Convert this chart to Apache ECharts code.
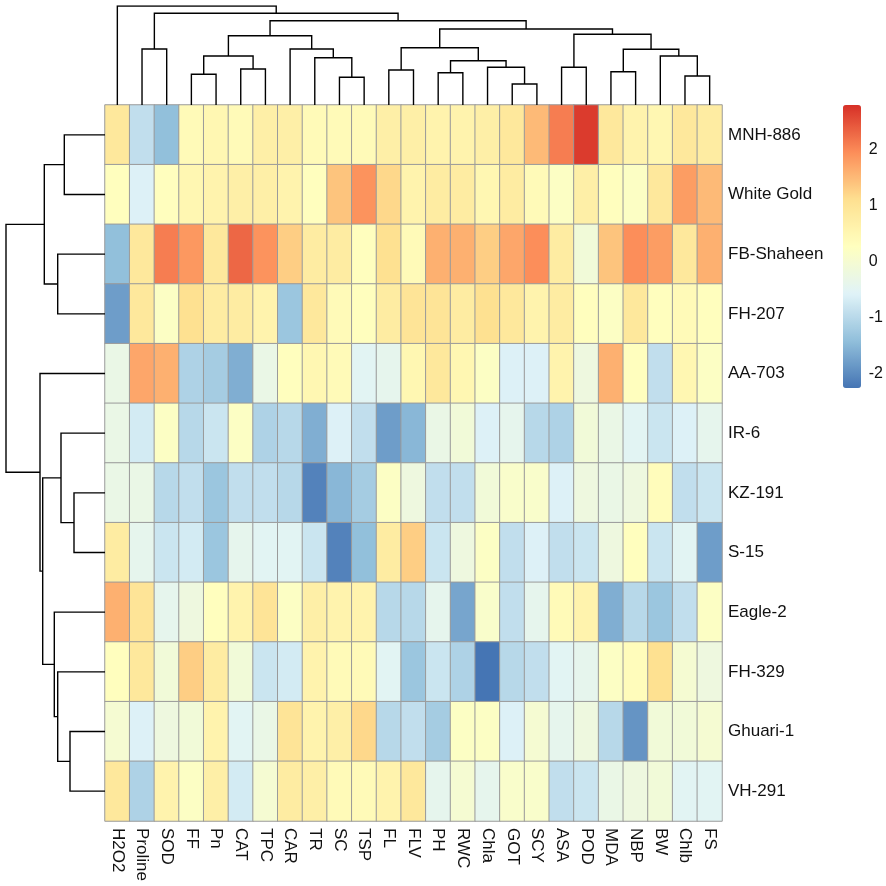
<!DOCTYPE html>
<html>
<head>
<meta charset="utf-8">
<script src="https://cdn.jsdelivr.net/npm/echarts@6/dist/echarts.min.js"></script>
<style>
html, body { margin: 0; padding: 0; background: #fff; }
#main { width: 886px; height: 886px; }
</style>
</head>
<body>
<div id="main"></div>
<script>
var rowNames = ['MNH-886', 'White Gold', 'FB-Shaheen', 'FH-207', 'AA-703', 'IR-6',
    'KZ-191', 'S-15', 'Eagle-2', 'FH-329', 'Ghuari-1', 'VH-291'];
var colNames = ['H2O2', 'Proline', 'SOD', 'FF', 'Pn', 'CAT', 'TPC', 'CAR', 'TR', 'SC',
    'TSP', 'FL', 'FLV', 'PH', 'RWC', 'Chla', 'GOT', 'SCY', 'ASA', 'POD', 'MDA', 'NBP',
    'BW', 'Chlb', 'FS'];
var legendTicks = [-2, -1, 0, 1, 2];
var scaleMin = -2.25, scaleMax = 2.8;

// scaled values, one row per genotype, columns in colNames order
var cellValues = [
    [0.9, -0.9, -1.4, 0.4, 0.5, 0.4, 0.7, 0.7, 0.4, 0.4, 0.4, 0.7, 0.7, 0.6, 0.6, 0.7, 0.9, 1.5, 2.1, 2.7, 0.9, 0.6, 0.5, 0.9, 0.8],
    [0.3, -0.6, 0.3, 0.5, 0.6, 0.7, 0.7, 0.6, 0.3, 1.4, 1.9, 1.2, 0.6, 0.8, 0.8, 0.5, 0.8, 0.4, 0.2, 0.7, 0.3, 0.2, 0.9, 1.8, 1.5],
    [-1.4, 0.9, 2.1, 1.85, 0.9, 2.3, 1.9, 1.3, 0.8, 0.8, 0.3, 1.1, 0.4, 1.6, 1.6, 1.3, 1.7, 1.95, 0.8, -0.1, 1.4, 1.95, 1.8, 0.9, 1.6],
    [-1.8, 0.9, 0.2, 1.1, 0.8, 0.8, 0.6, -1.3, 0.9, 0.4, 0.3, 0.8, 1.0, 1.0, 0.8, 1.1, 0.9, 0.6, 0.8, 0.3, 0.2, 0.9, 0.3, 0.4, 0.3],
    [-0.3, 1.7, 1.6, -1.1, -1.2, -1.6, -0.3, 0.3, 0.5, 0.4, -0.5, -0.4, 0.5, 0.9, 0.5, 0.2, -0.6, -0.6, 0.6, -0.2, 1.6, 0.3, -0.9, 0.5, 0.2],
    [-0.3, -0.7, 0.2, -1.0, -0.8, 0.2, -1.1, -1.0, -1.6, -0.6, -0.9, -1.8, -1.5, -0.3, -0.1, -0.6, -0.4, -1.0, -1.1, -0.1, -0.3, -0.5, -0.8, -0.6, -0.4],
    [-0.3, -0.3, -1.0, -0.9, -1.3, -0.9, -0.9, -1.0, -2.1, -1.5, -1.2, 0.2, -0.2, -0.9, -0.9, -0.1, 0.1, 0.1, -0.6, -0.2, -0.3, -0.2, 0.35, -0.9, -0.8],
    [0.8, -0.4, -0.8, -0.7, -1.3, -0.4, -0.5, -0.5, -0.8, -2.1, -1.4, 0.8, 1.3, -0.8, -0.2, 0.2, -0.9, -0.6, -0.9, -0.8, -0.2, 0.3, -0.8, -0.5, -1.8],
    [1.6, 1.0, -0.4, -0.2, 0.3, 0.6, 1.0, 0.2, 0.7, 0.6, 0.6, -1.0, -1.0, -0.4, -1.7, 0.1, -0.9, -0.4, 0.4, 0.6, -1.6, -1.0, -1.3, -0.9, 0.2],
    [0.3, 0.9, -0.1, 1.3, 0.8, -0.1, -0.8, -0.7, 0.6, 0.4, 0.4, -0.5, -1.3, -0.8, -1.1, -2.25, -1.0, -0.9, -0.5, -0.4, 0.2, 0.35, 1.1, 0.0, -0.2],
    [0.0, -0.6, -0.2, -0.1, 0.6, -0.5, -0.3, 1.0, 0.6, 0.7, 1.2, -1.0, -0.9, -1.2, 0.2, 0.2, -0.6, 0.0, -0.4, -0.2, -1.0, -1.9, -0.1, -0.1, 0.0],
    [0.9, -1.1, 0.6, 0.2, 0.7, -0.7, 0.0, 0.8, 0.7, 0.4, 0.4, 0.6, 0.9, -0.4, 0.0, -0.4, 0.1, 0.1, -0.9, -0.8, -0.3, -0.2, -0.1, -0.5, -0.5]
];

// hclust-style merges: negative = leaf (1-based position), positive = earlier merge
var colMerges = [
    [-17, -18, 21], [-10, -11, 27.7], [-24, -25, 29], [-4, -5, 30.7], [-14, -15, 32.3],
    [-21, -22, 33.3], [-12, -13, 35], [-6, -7, 36], [-16, 1, 37.7], [-19, -20, 37.7],
    [5, 9, 44.3], [-9, 2, 47.3], [4, 8, 49], [-23, 3, 49], [6, 14, 55.7],
    [-2, -3, 56], [-8, 12, 56], [7, 11, 57.3], [13, 17, 69.3], [10, 15, 70.7],
    [18, 20, 76], [19, 21, 84.3], [16, 22, 91.7], [-1, 23, 99]
];
var rowMerges = [
    [-7, -8, 31], [-11, -12, 35], [-1, -2, 40.7], [-6, 1, 44], [-3, -4, 47.3],
    [-10, 2, 47.3], [-9, 6, 50.7], [3, 5, 60.7], [4, 7, 62.3], [-5, 9, 65], [8, 10, 99]
];

function dendroSegments(merges, horizontal) {
    var pos = [], hgt = [], segs = [];
    function node(ref) {
        return ref < 0 ? [-ref - 0.5, 0] : [pos[ref - 1], hgt[ref - 1]];
    }
    function pt(p, h) { return horizontal ? [h, p] : [p, h]; }
    merges.forEach(function (m) {
        var a = node(m[0]), b = node(m[1]);
        segs.push({ coords: [pt(a[0], a[1]), pt(a[0], m[2]), pt(b[0], m[2]), pt(b[0], b[1])] });
        pos.push((a[0] + b[0]) / 2);
        hgt.push(m[2]);
    });
    return segs;
}

var heatData = [];
cellValues.forEach(function (row, r) {
    row.forEach(function (v, c) {
        heatData.push([c, r, v]);
    });
});

var font = 'Liberation Sans, Arial, sans-serif';
var chart = echarts.init(document.getElementById('main'));

chart.setOption({
    animation: false,
    backgroundColor: '#fff',
    grid: [
        { left: 105, top: 105, width: 617, height: 716 },
        { left: 105, top: 6, width: 617, height: 99 },
        { left: 6, top: 105, width: 99, height: 716 },
        { left: 843, top: 105, width: 18, height: 283 }
    ],
    xAxis: [
        {
            type: 'category', gridIndex: 0, data: colNames, position: 'bottom',
            axisLine: { show: false }, axisTick: { show: false }, splitLine: { show: false },
            axisLabel: { rotate: -90, fontSize: 17, color: '#111', fontFamily: font, margin: 7, interval: 0 }
        },
        { type: 'value', gridIndex: 1, min: 0, max: 25, show: false },
        { type: 'value', gridIndex: 2, min: 0, max: 99, inverse: true, show: false },
        { type: 'value', gridIndex: 3, min: 0, max: 1, show: false }
    ],
    yAxis: [
        {
            type: 'category', gridIndex: 0, data: rowNames, inverse: true, position: 'right',
            axisLine: { show: false }, axisTick: { show: false }, splitLine: { show: false },
            axisLabel: { fontSize: 17, color: '#111', fontFamily: font, margin: 6, interval: 0 }
        },
        { type: 'value', gridIndex: 1, min: 0, max: 99, show: false },
        { type: 'value', gridIndex: 2, min: 0, max: 12, inverse: true, show: false },
        {
            type: 'value', gridIndex: 3, min: scaleMin, max: scaleMax, position: 'right',
            axisLine: { show: false }, splitLine: { show: false },
            axisTick: { show: false, customValues: legendTicks },
            axisLabel: { fontSize: 16, color: '#111', fontFamily: font, margin: 8, customValues: legendTicks }
        }
    ],
    visualMap: {
        type: 'continuous',
        seriesIndex: 0,
        min: scaleMin,
        max: scaleMax,
        calculable: false,
        left: 843,
        top: 105,
        itemWidth: 18,
        itemHeight: 283,
        padding: 0,
        text: ['', ''],
        inRange: {
            color: ['#4575B4', '#91BFDB', '#E0F3F8', '#FFFFBF', '#FEE090', '#FC8D59', '#D73027']
        }
    },
    series: [
        {
            type: 'heatmap',
            xAxisIndex: 0, yAxisIndex: 0,
            data: heatData,
            itemStyle: { borderColor: '#9a9a9a', borderWidth: 1 },
            emphasis: { disabled: true }
        },
        {
            type: 'lines',
            coordinateSystem: 'cartesian2d',
            xAxisIndex: 1, yAxisIndex: 1,
            polyline: true,
            data: dendroSegments(colMerges, false),
            lineStyle: { color: '#000', width: 1.4, opacity: 1 },
            silent: true
        },
        {
            type: 'lines',
            coordinateSystem: 'cartesian2d',
            xAxisIndex: 2, yAxisIndex: 2,
            polyline: true,
            data: dendroSegments(rowMerges, true),
            lineStyle: { color: '#000', width: 1.4, opacity: 1 },
            silent: true
        },
        {
            type: 'scatter',
            xAxisIndex: 3, yAxisIndex: 3,
            data: [],
            silent: true
        }
    ]
});

window.onresize = chart.resize;
</script>
</body>
</html>
